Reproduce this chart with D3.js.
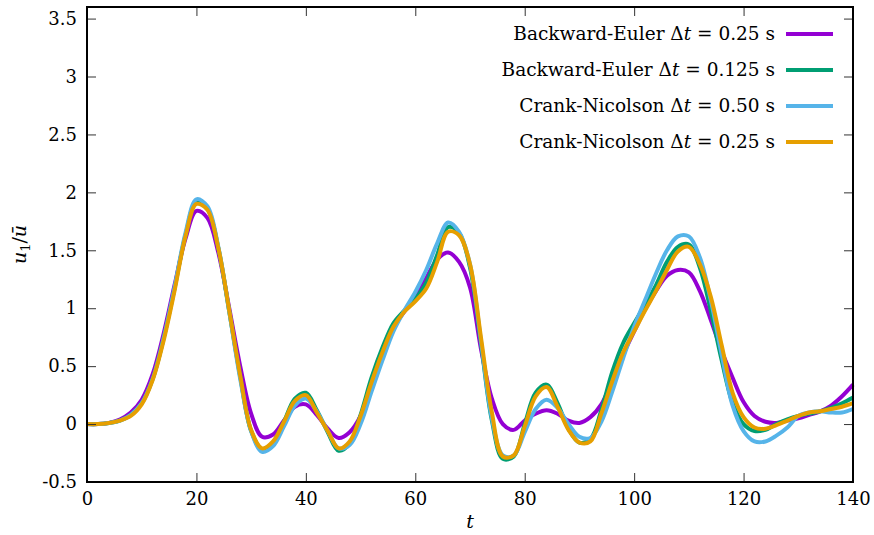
<!DOCTYPE html>
<html>
<head>
<meta charset="utf-8">
<script src="https://cdn.jsdelivr.net/npm/d3@7"></script>
<style>
  body { margin: 0; background: #fff; }
  svg { display: block; }
</style>
</head>
<body>
<div id="chart"></div>
<script>
// time samples (s)
const time = d3.range(0, 141, 2);

// u1 / u-bar for each scheme at the times above
const beCoarse = [0, 0, 0.01, 0.04, 0.1, 0.21, 0.43, 0.78, 1.2, 1.6, 1.84, 1.78, 1.48, 1.0, 0.5, 0.09,
  -0.11, -0.09, 0.03, 0.15, 0.17, 0.08, -0.04, -0.12, -0.07, 0.07, 0.34, 0.6, 0.83, 0.97, 1.1, 1.26,
  1.42, 1.48, 1.4, 1.18, 0.65, 0.22, 0.0, -0.05, 0.03, 0.09, 0.12, 0.09, 0.03, 0.01, 0.06, 0.17,
  0.38, 0.6, 0.8, 0.99, 1.15, 1.28, 1.33, 1.31, 1.15, 0.9, 0.63, 0.4, 0.19, 0.07, 0.02, 0.01,
  0.03, 0.05, 0.08, 0.11, 0.16, 0.24, 0.34];
const beFine = [0, 0, 0.01, 0.03, 0.08, 0.18, 0.39, 0.74, 1.17, 1.63, 1.92, 1.86, 1.52, 0.97, 0.41, -0.06,
  -0.22, -0.16, 0.02, 0.22, 0.27, 0.12, -0.07, -0.23, -0.17, 0.08, 0.4, 0.66, 0.87, 0.98, 1.08, 1.22,
  1.46, 1.7, 1.65, 1.35, 0.7, 0.03, -0.3, -0.28, 0.0, 0.27, 0.34, 0.18, -0.04, -0.16, -0.13, 0.12,
  0.45, 0.7, 0.87, 1.03, 1.2, 1.4, 1.53, 1.55, 1.35, 0.98, 0.55, 0.18, 0.0, -0.06, -0.05, 0.0,
  0.04, 0.07, 0.09, 0.11, 0.14, 0.18, 0.23];
const cnCoarse = [0, 0, 0.01, 0.03, 0.08, 0.18, 0.39, 0.74, 1.18, 1.65, 1.94, 1.88, 1.53, 0.97, 0.39, -0.06,
  -0.24, -0.19, -0.02, 0.16, 0.22, 0.11, -0.06, -0.21, -0.18, 0.0, 0.28, 0.55, 0.8, 0.98, 1.14, 1.33,
  1.56, 1.74, 1.66, 1.38, 0.72, 0.05, -0.27, -0.27, -0.07, 0.13, 0.21, 0.14, 0.0, -0.11, -0.12, 0.02,
  0.28, 0.57, 0.84, 1.07, 1.3, 1.5, 1.62, 1.62, 1.44, 1.07, 0.6, 0.16, -0.06, -0.15, -0.15, -0.1,
  -0.03, 0.07, 0.1, 0.11, 0.1, 0.1, 0.13];
const cnFine = [0, 0, 0.01, 0.03, 0.07, 0.17, 0.38, 0.72, 1.15, 1.62, 1.9, 1.85, 1.52, 0.98, 0.42, -0.05,
  -0.21, -0.15, 0.02, 0.2, 0.25, 0.1, -0.06, -0.21, -0.15, 0.07, 0.36, 0.62, 0.84, 0.97, 1.06, 1.17,
  1.4, 1.66, 1.63, 1.38, 0.75, 0.1, -0.28, -0.27, -0.02, 0.24, 0.32, 0.15, -0.05, -0.16, -0.15, 0.09,
  0.37, 0.62, 0.8, 0.98, 1.15, 1.33, 1.49, 1.53, 1.38, 1.1, 0.68, 0.27, 0.06, -0.03, -0.04, -0.01,
  0.03, 0.07, 0.1, 0.11, 0.13, 0.15, 0.18];

const seriesNames = ["Backward-Euler", "Backward-Euler", "Crank-Nicolson", "Crank-Nicolson"];
const seriesSteps = ["0.25", "0.125", "0.50", "0.25"];
const seriesColors = ["#9400d3", "#009e73", "#56b4e9", "#e69f00"];
const seriesValues = [beCoarse, beFine, cnCoarse, cnFine];

const xTicks = [0, 20, 40, 60, 80, 100, 120, 140];
const yTicks = [-0.5, 0, 0.5, 1, 1.5, 2, 2.5, 3, 3.5];

const FONT = "DejaVu Serif";
const W = 874, H = 535;
const margin = {top: 7, right: 21, bottom: 53, left: 87};
const width = W - margin.left - margin.right;
const height = H - margin.top - margin.bottom;

const svg = d3.select('#chart').append('svg')
    .attr('width', W)
    .attr('height', H)
    .attr('font-family', FONT);
const g = svg.append('g')
    .attr('transform', `translate(${margin.left},${margin.top})`);

const x = d3.scaleLinear().domain([0, 140]).range([0, width]);
const y = d3.scaleLinear().domain([-0.5, 3.6]).range([height, 0]);

// curves
const line = d3.line()
    .x(d => x(d[0]))
    .y(d => y(d[1]))
    .curve(d3.curveCatmullRom);

seriesValues.forEach((vals, i) => {
    g.append('path')
        .datum(time.map((t, j) => [t, vals[j]]))
        .attr('fill', 'none')
        .attr('stroke', seriesColors[i])
        .attr('stroke-width', 4)
        .attr('stroke-linejoin', 'round')
        .attr('d', line);
});

// axes with inward ticks on all four sides
const tick = 9;
const styleAxis = sel => {
    sel.attr('font-family', FONT);
    sel.select('.domain').remove();
    sel.selectAll('.tick line').attr('stroke', '#333').attr('stroke-width', 1);
    sel.selectAll('text').style('font-size', '18px').attr('fill', '#000');
};

g.append('g')
    .attr('transform', `translate(0,${height})`)
    .call(d3.axisBottom(x).tickValues(xTicks).tickSize(-tick).tickPadding(10)
        .tickFormat(d => String(d)))
    .call(styleAxis);

g.append('g')
    .call(d3.axisLeft(y).tickValues(yTicks).tickSize(-tick).tickPadding(10)
        .tickFormat(d => String(d)))
    .call(styleAxis);

g.append('g')
    .call(d3.axisTop(x).tickValues(xTicks).tickSize(-tick).tickFormat(''))
    .call(styleAxis);

g.append('g')
    .attr('transform', `translate(${width},0)`)
    .call(d3.axisRight(y).tickValues(yTicks).tickSize(-tick).tickFormat(''))
    .call(styleAxis);

// frame
g.append('rect')
    .attr('width', width)
    .attr('height', height)
    .attr('fill', 'none')
    .attr('stroke', '#000')
    .attr('stroke-width', 2);

// axis labels
g.append('text')
    .attr('x', x(70))
    .attr('y', height + 46)
    .attr('text-anchor', 'middle')
    .style('font-size', '19px')
    .style('font-style', 'italic')
    .text('t');

const yl = svg.append('text')
    .attr('transform', `translate(26,${margin.top + y(1.55)}) rotate(-90)`)
    .attr('text-anchor', 'middle')
    .style('font-size', '19px');
yl.append('tspan').style('font-style', 'italic').text('u');
yl.append('tspan').attr('dy', 4).style('font-size', '13px').text('1');
yl.append('tspan').attr('dy', -4).text('/');
yl.append('tspan').style('font-style', 'italic').text('ū');

// legend
const legend = g.append('g')
    .attr('transform', `translate(${width},0)`);

seriesNames.forEach((name, i) => {
    const ly = 27 + i * 36;
    legend.append('line')
        .attr('x1', -67).attr('x2', -20)
        .attr('y1', ly).attr('y2', ly)
        .attr('stroke', seriesColors[i])
        .attr('stroke-width', 4);
    const txt = legend.append('text')
        .attr('x', -78)
        .attr('y', ly + 6)
        .attr('text-anchor', 'end')
        .style('font-size', '18.5px');
    txt.append('tspan').text(name + ' \u0394');
    txt.append('tspan').style('font-style', 'italic').text('t');
    txt.append('tspan').text(` = ${seriesSteps[i]} s`);
});
</script>
</body>
</html>
